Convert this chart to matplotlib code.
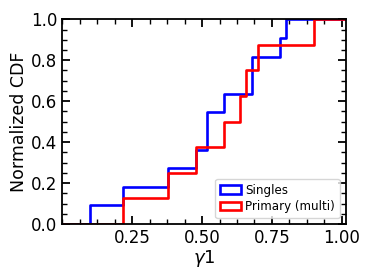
import numpy as np
import matplotlib
matplotlib.use("Agg")
import matplotlib.pyplot as plt
from matplotlib.patches import Patch
from matplotlib.ticker import MultipleLocator

singles = [0.098, 0.218, 0.377, 0.478, 0.518, 0.518, 0.577, 0.678, 0.678, 0.78, 0.80]
primary = [0.218, 0.377, 0.478, 0.577, 0.637, 0.657, 0.699, 0.899]
labels = ["Singles", "Primary (multi)"]
colors = ["blue", "red"]
xticks = [0.25, 0.5, 0.75, 1.0]
xticklabels = ["0.25", "0.50", "0.75", "1.00"]
yticks = [0.0, 0.2, 0.4, 0.6, 0.8, 1.0]
yticklabels = ["0.0", "0.2", "0.4", "0.6", "0.8", "1.0"]
xlim = (0.0, 1.013)

fig = plt.figure(figsize=(3.74, 2.80), dpi=100)
ax = fig.add_axes([0.166, 0.2, 0.758, 0.731])

for data, c in zip([singles, primary], colors):
    x = np.sort(np.asarray(data))
    n = len(x)
    xs = np.r_[xlim[0], x, xlim[1]]
    ys = np.r_[0, np.arange(1, n + 1) / n, 1.0]
    ax.step(xs, ys, where="post", color=c, lw=1.9, clip_on=True)

ax.set_xlim(*xlim)
ax.set_ylim(0, 1.0)
ax.set_xticks(xticks)
ax.set_xticklabels(xticklabels)
ax.set_yticks(yticks)
ax.set_yticklabels(yticklabels)
ax.xaxis.set_minor_locator(MultipleLocator(0.0625))
ax.yaxis.set_minor_locator(MultipleLocator(0.05))
ax.tick_params(which="both", direction="in", top=True, right=True, labelsize=12)
ax.tick_params(which="major", length=6, width=1.3)
ax.tick_params(which="minor", length=3.5, width=1.0)
for s in ax.spines.values():
    s.set_linewidth(1.3)

ax.set_xlabel(r"$\gamma1$", fontsize=13, labelpad=1)
ax.set_ylabel("Normalized CDF", fontsize=12.5, labelpad=2)

handles = [Patch(facecolor="white", edgecolor=c, lw=1.9) for c in colors]
ax.legend(handles, labels, loc="lower right", fontsize=8.6, handlelength=1.8,
          handletextpad=0.3, borderpad=0.4, labelspacing=0.3)

fig.savefig("out.png", dpi=100)
